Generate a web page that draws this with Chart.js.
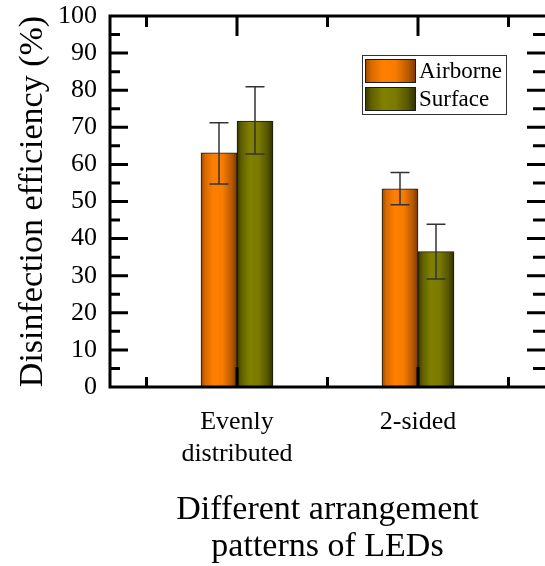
<!DOCTYPE html>
<html><head><meta charset="utf-8">
<script src="https://cdn.jsdelivr.net/npm/chart.js@4"></script>
<style>html,body{margin:0;padding:0;background:#fff;overflow:hidden}canvas{display:block}</style>
</head><body>
<canvas id="c" width="545" height="566"></canvas>
<script>
// ---- data ----
const categories = [['Evenly', 'distributed'], ['2-sided']];
const seriesNames = ['Airborne', 'Surface'];
const airborne = [63.1, 53.4];
const airborneLow = [54.7, 49.1];
const airborneHigh = [71.2, 57.8];
const surface = [71.7, 36.5];
const surfaceLow = [62.8, 29.1];
const surfaceHigh = [80.9, 43.9];
const yTickValues = [0, 10, 20, 30, 40, 50, 60, 70, 80, 90, 100];
const yTickLabels = ['0', '10', '20', '30', '40', '50', '60', '70', '80', '90', '100'];
const xTitle = ['Different arrangement', 'patterns of LEDs'];
const yTitle = 'Disinfection efficiency (%)';

// ---- styles ----
const FONT = "'Liberation Serif', 'Times New Roman', serif";
const orangeStops = [[0, '#9a4a00'], [0.12, '#d86a00'], [0.35, '#ff8000'], [0.6, '#f77c00'], [0.85, '#b85800'], [1, '#7a3a00']];
const oliveStops = [[0, '#363600'], [0.12, '#5e5e00'], [0.35, '#808000'], [0.6, '#7a7a00'], [0.85, '#555500'], [1, '#2e2e00']];

function makeGrad(ctx, x0, x1, stops) {
  const g = ctx.createLinearGradient(x0, 0, x1, 0);
  stops.forEach(s => g.addColorStop(s[0], s[1]));
  return g;
}

const gradientPlugin = {
  id: 'barGradient',
  beforeDatasetsDraw(chart) {
    chart.data.datasets.forEach((ds, di) => {
      chart.getDatasetMeta(di).data.forEach(el => {
        const w = el.width;
        const g = makeGrad(chart.ctx, el.x - w / 2, el.x + w / 2, ds.gradStops);
        el.options = Object.assign({}, el.options, { backgroundColor: g });
      });
    });
  }
};

const errorBarPlugin = {
  id: 'errorBars',
  afterDatasetsDraw(chart) {
    const ctx = chart.ctx, y = chart.scales.y;
    ctx.save();
    ctx.strokeStyle = '#333';
    ctx.lineWidth = 1.5;
    chart.data.datasets.forEach((ds, di) => {
      chart.getDatasetMeta(di).data.forEach((el, i) => {
        const x = el.x;
        const yl = y.getPixelForValue(ds.low[i]);
        const yh = y.getPixelForValue(ds.high[i]);
        const cw = 9.5;
        ctx.beginPath();
        ctx.moveTo(x, yh); ctx.lineTo(x, yl);
        ctx.moveTo(x - cw, yh); ctx.lineTo(x + cw, yh);
        ctx.moveTo(x - cw, yl); ctx.lineTo(x + cw, yl);
        ctx.stroke();
      });
    });
    ctx.restore();
  }
};

const framePlugin = {
  id: 'frame',
  afterDatasetsDraw(chart) {
    const ctx = chart.ctx, a = chart.chartArea, xs = chart.scales.x, ys = chart.scales.y;
    ctx.save();
    ctx.strokeStyle = '#000';
    ctx.lineWidth = 3;
    ctx.lineCap = 'butt';
    ctx.beginPath();
    const yt = ys.ticks.map(t => t.value);
    yt.forEach((v, i) => {
      const p = ys.getPixelForValue(v);
      ctx.moveTo(a.left, p); ctx.lineTo(a.left + 18, p);
      ctx.moveTo(a.right, p); ctx.lineTo(a.right - 18, p);
      if (i < yt.length - 1) {
        const q = ys.getPixelForValue((v + yt[i + 1]) / 2);
        ctx.moveTo(a.left, q); ctx.lineTo(a.left + 10, q);
        ctx.moveTo(a.right, q); ctx.lineTo(a.right - 12, q);
      }
    });
    const xt = xs.ticks.map(t => t.value);
    const minors = [xt[0] - 0.5].concat(xt.map(v => v + 0.5));
    xt.forEach(v => {
      const p = xs.getPixelForValue(v);
      ctx.moveTo(p, a.top); ctx.lineTo(p, a.top + 20);
      ctx.moveTo(p, a.bottom); ctx.lineTo(p, a.bottom - 20);
    });
    minors.forEach(v => {
      const p = xs.getPixelForValue(v);
      ctx.moveTo(p, a.top); ctx.lineTo(p, a.top + 11);
      ctx.moveTo(p, a.bottom); ctx.lineTo(p, a.bottom - 10);
    });
    // frame: left, top, bottom (right edge lies just outside the canvas)
    ctx.moveTo(a.left, a.bottom + 1.5); ctx.lineTo(a.left, a.top);
    ctx.moveTo(a.left - 1.5, a.top); ctx.lineTo(a.right + 4, a.top);
    ctx.moveTo(a.left - 1.5, a.bottom); ctx.lineTo(a.right + 4, a.bottom);
    ctx.stroke();
    ctx.restore();
  }
};

const legendPlugin = {
  id: 'boxLegend',
  afterDraw(chart) {
    const ctx = chart.ctx;
    const bx = 362, by = 55, bw = 144, bh = 59;
    ctx.save();
    ctx.fillStyle = '#fff';
    ctx.fillRect(bx, by, bw, bh);
    ctx.strokeStyle = '#333';
    ctx.lineWidth = 1;
    ctx.strokeRect(bx + 0.5, by + 0.5, bw, bh);
    chart.data.datasets.forEach((ds, i) => {
      const sx = 365, sy = 59 + i * 28, sw = 51, sh = 24;
      ctx.fillStyle = makeGrad(ctx, sx, sx + sw, ds.gradStops);
      ctx.fillRect(sx, sy, sw, sh);
      ctx.strokeStyle = '#1a1a1a';
      ctx.strokeRect(sx + 0.5, sy + 0.5, sw - 1, sh - 1);
      ctx.fillStyle = '#000';
      ctx.font = '23px ' + FONT;
      ctx.textBaseline = 'middle';
      ctx.textAlign = 'left';
      ctx.fillText(ds.label, sx + sw + 3, sy + sh / 2 + 1);
    });
    ctx.restore();
  }
};

new Chart(document.getElementById('c'), {
  type: 'bar',
  data: {
    datasets: [
      { label: seriesNames[0], data: airborne.map((v, i) => ({ x: i, y: v })), low: airborneLow, high: airborneHigh,
        gradStops: orangeStops, backgroundColor: '#ff8000', borderColor: '#1a1a1a', borderWidth: 1, barThickness: 36 },
      { label: seriesNames[1], data: surface.map((v, i) => ({ x: i, y: v })), low: surfaceLow, high: surfaceHigh,
        gradStops: oliveStops, backgroundColor: '#808000', borderColor: '#1a1a1a', borderWidth: 1, barThickness: 36 }
    ]
  },
  options: {
    responsive: false,
    animation: false,
    devicePixelRatio: 1,
    layout: { padding: { left: 0, right: 0, top: 16, bottom: 0 } },
    plugins: { legend: { display: false }, tooltip: { enabled: false } },
    scales: {
      x: {
        type: 'linear', min: -0.7017, max: 1.7017, offset: false,
        afterBuildTicks: s => { s.ticks = categories.map((c, i) => ({ value: i })); },
        ticks: { callback: (v, i) => categories[i], font: { family: FONT, size: 26, lineHeight: 1.23 }, color: '#000', padding: 19, maxRotation: 0, autoSkip: false },
        grid: { display: false, drawTicks: false },
        border: { display: false },
        title: { display: true, text: xTitle, color: '#000', font: { family: FONT, size: 34, lineHeight: 37 / 34 }, padding: { top: 0, bottom: 0 } },
        afterFit: s => { s.height = 566 - 387; s.paddingLeft = 0; s.paddingRight = 0; }
      },
      y: {
        min: 0, max: 100,
        afterBuildTicks: s => { s.ticks = yTickValues.map(v => ({ value: v })); },
        ticks: { callback: (v, i) => yTickLabels[i], font: { family: FONT, size: 26 }, color: '#000', padding: 13 },
        grid: { display: false, drawTicks: false },
        border: { display: false },
        title: { display: true, text: yTitle, color: '#000', font: { family: FONT, size: 34, lineHeight: 1.2 }, padding: { top: 13, bottom: 0 } },
        afterFit: s => { s.width = 110; s.paddingTop = 0; s.paddingBottom = 0; }
      }
    }
  },
  plugins: [gradientPlugin, errorBarPlugin, framePlugin, legendPlugin]
});
</script>
</body></html>
